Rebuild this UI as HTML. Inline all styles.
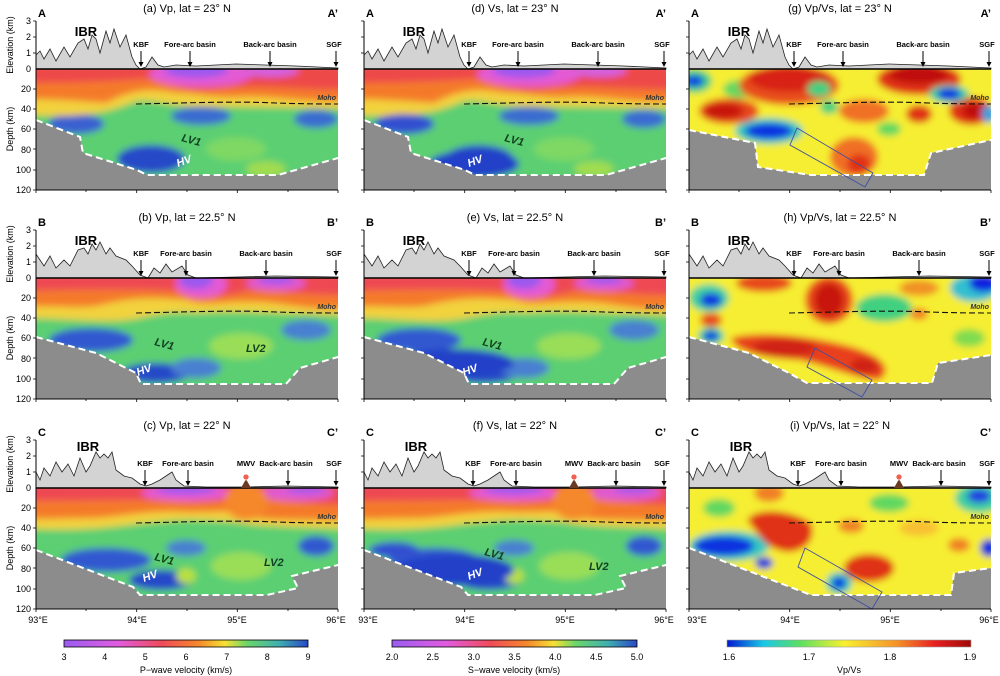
<!DOCTYPE html>
<html><head><meta charset="utf-8"><style>
html,body{margin:0;padding:0;background:#fff}
svg{display:block;font-family:"Liberation Sans",sans-serif}
.t{font-size:11px;text-anchor:middle}
.tk{font-size:9px;text-anchor:end}
.lb{font-size:7.5px;font-weight:bold;text-anchor:middle}
.cb{font-size:9px;text-anchor:middle}
</style></head><body>
<svg width="1000" height="676" viewBox="0 0 1000 676" xmlns="http://www.w3.org/2000/svg">
<defs>
<filter id="bl" x="-20%" y="-20%" width="140%" height="140%"><feGaussianBlur stdDeviation="3.5"/></filter>
<clipPath id="cp"><rect x="0" y="0" width="302" height="121"/></clipPath>
<linearGradient id="gvp" x1="0" x2="1">
<stop offset="0" stop-color="#9a5cf0"/><stop offset="0.22" stop-color="#e05ce0"/><stop offset="0.4" stop-color="#f04a5a"/><stop offset="0.55" stop-color="#f5872c"/><stop offset="0.66" stop-color="#f6e034"/><stop offset="0.75" stop-color="#6cd66a"/><stop offset="0.88" stop-color="#40b0b0"/><stop offset="1" stop-color="#2848c8"/></linearGradient>
<linearGradient id="gvr" x1="0" x2="1">
<stop offset="0" stop-color="#0018d0"/><stop offset="0.15" stop-color="#18c8e8"/><stop offset="0.3" stop-color="#5ce060"/><stop offset="0.48" stop-color="#f8f030"/><stop offset="0.7" stop-color="#f59028"/><stop offset="0.85" stop-color="#e82020"/><stop offset="1" stop-color="#a00808"/></linearGradient>

<g id="vp1">
<rect x="-20" y="-5" width="342" height="135" fill="#5ccf72"/>
<ellipse cx="40" cy="55" rx="28" ry="10" fill="#3a60d0"/>
<ellipse cx="115" cy="90" rx="34" ry="14" fill="#2848c8"/>
<ellipse cx="165" cy="47" rx="30" ry="9" fill="#3a6cd0"/>
<ellipse cx="280" cy="50" rx="22" ry="9" fill="#3a6cd0"/>
<ellipse cx="200" cy="80" rx="30" ry="12" fill="#7ed864"/>
<ellipse cx="230" cy="100" rx="20" ry="8" fill="#a0dc50"/>
<path d="M-20,-5H322V40C260,38 200,38 160,37C130,37 120,30 100,32C70,45 40,50 -20,45Z" fill="#f2d23e"/>
<path d="M-20,-5H322V32C260,34 240,26 200,28C170,28 160,24 140,24C120,20 100,18 70,34C40,32 20,30 -20,30Z" fill="#f47a2a"/>
<path d="M-20,-5H322V20C260,22 220,14 180,20C150,24 130,12 110,10C80,12 50,14 -20,14Z" fill="#ee4a48"/>
<ellipse cx="165" cy="5" rx="52" ry="13" fill="#e45ad4"/>
<ellipse cx="160" cy="1" rx="32" ry="8" fill="#9c58ee"/>
<ellipse cx="235" cy="2" rx="28" ry="6" fill="#d460e0"/>
</g>
<g id="vp2">
<rect x="-20" y="-5" width="342" height="135" fill="#5ccf72"/>
<ellipse cx="55" cy="62" rx="42" ry="12" fill="#3058d0"/>
<ellipse cx="120" cy="95" rx="34" ry="10" fill="#2848c8"/>
<ellipse cx="270" cy="52" rx="25" ry="10" fill="#4a80d0"/>
<ellipse cx="160" cy="90" rx="25" ry="10" fill="#4a80d0"/>
<ellipse cx="205" cy="68" rx="32" ry="13" fill="#9ade58"/>
<path d="M-20,-5H322V38C260,36 200,32 160,35C130,32 110,40 90,42C60,45 30,40 -20,40Z" fill="#f2d23e"/>
<path d="M-20,-5H322V30C270,34 250,24 220,24C190,22 170,30 150,22C120,20 100,18 60,28C40,30 20,28 -20,28Z" fill="#f47a2a"/>
<path d="M-20,-5H322V16C270,19 240,11 210,13C180,22 160,18 140,13C110,11 50,11 -20,13Z" fill="#ee4a52"/>
<ellipse cx="165" cy="6" rx="26" ry="14" fill="#e45ad4"/>
<ellipse cx="160" cy="2" rx="17" ry="9" fill="#9c58ee"/>
<ellipse cx="240" cy="5" rx="30" ry="8" fill="#e05ad0"/>
<ellipse cx="240" cy="1" rx="18" ry="5" fill="#a058ee"/>
</g>
<g id="vp3">
<rect x="-20" y="-5" width="342" height="135" fill="#5ccf72"/>
<ellipse cx="70" cy="72" rx="45" ry="12" fill="#3058d0"/>
<ellipse cx="125" cy="92" rx="32" ry="10" fill="#2848c8"/>
<ellipse cx="150" cy="60" rx="20" ry="8" fill="#4a80d0"/>
<ellipse cx="280" cy="58" rx="18" ry="10" fill="#3058d0"/>
<ellipse cx="205" cy="78" rx="30" ry="14" fill="#9ade58"/>
<ellipse cx="150" cy="88" rx="10" ry="8" fill="#b8e040"/>
<path d="M-20,-5H322V42C270,38 230,40 200,34C170,32 150,30 120,34C90,36 60,45 -20,40Z" fill="#f2d23e"/>
<path d="M-20,-5H322V32C270,32 240,32 220,30C200,20 170,25 150,24C120,22 100,26 60,30C40,30 20,31 -20,31Z" fill="#f47a2a"/>
<path d="M-20,-5H322V16C270,18 240,10 210,9C190,14 160,15 140,13C110,11 50,13 -20,13Z" fill="#ee4a52"/>
<ellipse cx="150" cy="5" rx="45" ry="8" fill="#e45ad4"/>
<ellipse cx="150" cy="1" rx="30" ry="5" fill="#9c58ee"/>
<ellipse cx="260" cy="5" rx="38" ry="8" fill="#e05ad0"/>
<ellipse cx="270" cy="1" rx="20" ry="4" fill="#a058ee"/>
<ellipse cx="210" cy="14" rx="22" ry="18" fill="#f5882c"/>
</g>

<g id="vr1">
<rect x="-20" y="-5" width="342" height="135" fill="#f6ee30"/>
<ellipse cx="5" cy="12" rx="18" ry="12" fill="#40d080"/><ellipse cx="5" cy="12" rx="10" ry="6" fill="#1040e0"/>
<ellipse cx="50" cy="20" rx="16" ry="9" fill="#60d860"/>
<ellipse cx="80" cy="62" rx="34" ry="13" fill="#30c8c0"/><ellipse cx="80" cy="62" rx="24" ry="8" fill="#1030e0"/>
<ellipse cx="100" cy="16" rx="50" ry="20" fill="#e8501c"/><ellipse cx="100" cy="10" rx="40" ry="13" fill="#d82018"/>
<ellipse cx="230" cy="10" rx="42" ry="16" fill="#e03018"/><ellipse cx="230" cy="6" rx="30" ry="9" fill="#c01010"/>
<ellipse cx="40" cy="42" rx="30" ry="13" fill="#e84a1c"/><ellipse cx="35" cy="42" rx="20" ry="8" fill="#c81810"/>
<ellipse cx="282" cy="42" rx="22" ry="14" fill="#e03018"/><ellipse cx="285" cy="42" rx="12" ry="8" fill="#c01010"/>
<ellipse cx="175" cy="42" rx="25" ry="12" fill="#f07028"/>
<ellipse cx="230" cy="45" rx="13" ry="9" fill="#e03018"/>
<ellipse cx="165" cy="88" rx="24" ry="20" fill="#f07028"/><ellipse cx="170" cy="95" rx="12" ry="10" fill="#e03018"/>
<ellipse cx="260" cy="25" rx="20" ry="9" fill="#40d0a0"/><ellipse cx="260" cy="25" rx="12" ry="6" fill="#1030e0"/>
<ellipse cx="140" cy="38" rx="9" ry="7" fill="#40d080"/>
<ellipse cx="300" cy="45" rx="7" ry="9" fill="#30a0e0"/>
<ellipse cx="200" cy="60" rx="12" ry="7" fill="#60d860"/>
<ellipse cx="130" cy="20" rx="12" ry="8" fill="#40d080"/>
</g>
<g id="vr2">
<rect x="-20" y="-5" width="342" height="135" fill="#f6ee30"/>
<ellipse cx="20" cy="20" rx="20" ry="14" fill="#40d0a0"/><ellipse cx="22" cy="22" rx="11" ry="7" fill="#1030e0"/>
<ellipse cx="22" cy="58" rx="13" ry="9" fill="#40d0a0"/><ellipse cx="22" cy="58" rx="8" ry="5" fill="#1030e0"/>
<ellipse cx="22" cy="42" rx="11" ry="7" fill="#e84a1c"/>
<ellipse cx="140" cy="22" rx="24" ry="24" fill="#e84a1c"/><ellipse cx="140" cy="22" rx="15" ry="17" fill="#c81810"/>
<ellipse cx="75" cy="5" rx="28" ry="9" fill="#e84a1c"/>
<path d="M42,60C70,52 120,58 160,68C195,78 205,92 190,102C170,102 140,88 110,82C80,80 46,76 42,60Z" fill="#e8401c"/>
<ellipse cx="95" cy="70" rx="32" ry="9" fill="#d02018"/>
<ellipse cx="175" cy="88" rx="14" ry="8" fill="#d02018"/>
<ellipse cx="195" cy="30" rx="28" ry="14" fill="#40d080"/>
<ellipse cx="285" cy="10" rx="24" ry="14" fill="#30c0d0"/><ellipse cx="295" cy="5" rx="15" ry="9" fill="#1020e0"/>
<ellipse cx="230" cy="36" rx="9" ry="6" fill="#f08028"/>
<ellipse cx="50" cy="85" rx="11" ry="7" fill="#60d860"/>
<ellipse cx="280" cy="60" rx="16" ry="9" fill="#80dc50"/>
<ellipse cx="230" cy="10" rx="20" ry="8" fill="#f09028"/>
</g>
<g id="vr3">
<rect x="-20" y="-5" width="342" height="135" fill="#f6ee30"/>
<ellipse cx="30" cy="20" rx="16" ry="9" fill="#60d860"/>
<ellipse cx="40" cy="58" rx="40" ry="15" fill="#30c8c0"/><ellipse cx="35" cy="58" rx="30" ry="10" fill="#1030e0"/>
<ellipse cx="80" cy="5" rx="15" ry="9" fill="#f08028"/>
<path d="M58,32C68,18 102,22 122,35C127,52 117,62 100,64C78,62 73,50 68,45Z" fill="#e03018"/>
<ellipse cx="162" cy="38" rx="13" ry="7" fill="#f08028"/>
<ellipse cx="180" cy="80" rx="25" ry="14" fill="#e03018"/>
<ellipse cx="150" cy="95" rx="13" ry="11" fill="#30c8c0"/><ellipse cx="150" cy="95" rx="7" ry="6" fill="#1030e0"/>
<ellipse cx="75" cy="75" rx="9" ry="6" fill="#1030e0"/>
<ellipse cx="290" cy="10" rx="24" ry="15" fill="#40d0a0"/><ellipse cx="290" cy="8" rx="12" ry="7" fill="#2040e0"/>
<ellipse cx="200" cy="15" rx="20" ry="9" fill="#60d860"/>
<ellipse cx="300" cy="60" rx="9" ry="9" fill="#1030e0"/>
<ellipse cx="270" cy="57" rx="11" ry="7" fill="#f08028"/>
<ellipse cx="230" cy="40" rx="20" ry="8" fill="#f8c030"/>
</g>

<g id="topo1"><path d="M0,0L0,-14 4,-18 8,-10 14,-20 20,-8 28,-22 34,-12 42,-26 48,-30 52,-20 56,-34 60,-30 64,-16 70,-38 74,-26 78,-40 84,-22 90,-34 96,-12 100,-4 104,0 110,-2 116,-12 122,-4 128,-2 140,-4 160,-3 200,-5 260,-3 302,-1 302,0Z" fill="#d3d3d3" stroke="#222" stroke-width="0.8"/></g>
<g id="topo2"><path d="M0,0L0,-24 4,-18 8,-12 14,-22 20,-10 28,-18 34,-12 42,-28 48,-30 52,-24 56,-34 60,-28 64,-36 70,-24 74,-30 80,-22 90,-18 96,-12 104,-3 112,0 118,-10 124,-5 130,-14 136,-6 146,-12 152,-3 160,0 200,-1 240,-2 302,-1 302,0Z" fill="#d3d3d3" stroke="#222" stroke-width="0.8"/></g>
<g id="topo3"><path d="M0,0L0,-16 4,-8 8,-20 14,-12 20,-26 26,-16 32,-24 38,-12 44,-30 50,-16 54,-22 60,-36 64,-30 68,-34 72,-30 76,-36 80,-18 88,-12 96,-10 104,-4 110,-2 116,-4 124,-8 130,-12 136,-16 140,-8 148,-2 170,-1 210,-1 250,-2 302,-1 302,0Z" fill="#d3d3d3" stroke="#222" stroke-width="0.8"/></g>

<g id="ax">
<line x1="0" y1="-48" x2="0" y2="121" stroke="#000" stroke-width="1"/>
<line x1="0" y1="121" x2="302" y2="121" stroke="#000" stroke-width="1"/>
<line x1="0" y1="0" x2="302" y2="0" stroke="#000" stroke-width="1.5"/>
<path d="M0,-48h-3M0,-32h-3M0,-16h-3M0,20h-3M0,40h-3M0,60h-3M0,80h-3M0,101h-3M0,121h-3M0,121v3M50,121v2M100.7,121v3M151,121v2M201.3,121v3M252,121v2M302,121v3" stroke="#000" stroke-width="0.8"/>
</g>
<g id="lax" class="tk">
<text x="-5" y="-45">3</text><text x="-5" y="-29">2</text><text x="-5" y="-13">1</text><text x="-5" y="3">0</text>
<text x="-5" y="23">20</text><text x="-5" y="43">40</text><text x="-5" y="63">60</text><text x="-5" y="84">80</text><text x="-5" y="104">100</text><text x="-5" y="124">120</text>
<text transform="translate(-23,-24) rotate(-90)" style="text-anchor:middle">Elevation (km)</text>
<text transform="translate(-23,60) rotate(-90)" style="text-anchor:middle">Depth (km)</text>
</g>
<g id="arr"><line x1="0" y1="-18" x2="0" y2="-5" stroke="#000" stroke-width="1"/><path d="M-2.5,-7 L2.5,-7 L0,-2Z"/></g>
<g id="moho"><path d="M100,35 C150,34 200,32 240,34 C270,35 290,35 302,35" fill="none" stroke="#111" stroke-width="1.1" stroke-dasharray="6,3"/><text x="300" y="31" style="font-size:7px;font-style:italic;font-weight:bold;text-anchor:end;fill:#333">Moho</text></g>
<g id="vol"><path d="M-5,0 L0,-9 L5,0Z" fill="#6b3a22"/><circle cx="0" cy="-11" r="3" fill="#f06050" stroke="#fff" stroke-width="0.7"/></g>
<g id="vsx1"><ellipse cx="110" cy="95" rx="45" ry="14" fill="#2040c8"/><ellipse cx="40" cy="55" rx="30" ry="10" fill="#3050d0"/></g>
<g id="vsx2"><ellipse cx="90" cy="85" rx="60" ry="14" fill="#2040c8"/></g>
<g id="vsx3"><ellipse cx="90" cy="82" rx="60" ry="16" fill="#2040c8"/><ellipse cx="30" cy="62" rx="25" ry="8" fill="#3050d0"/></g>
</defs>

<!-- Titles -->
<text class="t" x="187" y="12">(a) Vp, lat = 23° N</text>
<text class="t" x="515" y="12">(d) Vs, lat = 23° N</text>
<text class="t" x="840" y="12">(g) Vp/Vs, lat = 23° N</text>
<text class="t" x="187" y="221">(b) Vp, lat = 22.5° N</text>
<text class="t" x="515" y="221">(e) Vs, lat = 22.5° N</text>
<text class="t" x="840" y="221">(h) Vp/Vs, lat = 22.5° N</text>
<text class="t" x="187" y="429">(c) Vp, lat = 22° N</text>
<text class="t" x="515" y="429">(f) Vs, lat = 22° N</text>
<text class="t" x="840" y="429">(i) Vp/Vs, lat = 22° N</text>

<!-- ROW 1 -->
<g transform="translate(36,69)">
<g clip-path="url(#cp)"><g filter="url(#bl)"><use href="#vp1"/></g></g>
<path d="M0,51L44,68 47,84 101,101 111,106 242,106 302,89V121H0Z" fill="#8c8c8c"/>
<path d="M0,51L44,68 47,84 101,101 111,106 242,106 302,89" fill="none" stroke="#fff" stroke-width="2" stroke-dasharray="7,4"/>
<use href="#topo1"/><use href="#moho"/><use href="#ax"/><use href="#lax"/>
</g>
<g transform="translate(364,69)">
<g clip-path="url(#cp)"><g filter="url(#bl)"><use href="#vp1"/><use href="#vsx1"/></g></g>
<path d="M0,51L44,68 47,84 101,101 111,106 242,106 302,89V121H0Z" fill="#8c8c8c"/>
<path d="M0,51L44,68 47,84 101,101 111,106 242,106 302,89" fill="none" stroke="#fff" stroke-width="2" stroke-dasharray="7,4"/>
<use href="#topo1"/><use href="#moho"/><use href="#ax"/>
</g>
<g transform="translate(689,69)">
<g clip-path="url(#cp)"><g filter="url(#bl)"><use href="#vr1"/></g></g>
<path d="M0,61L66,74 69,98 122,106 235,106 242,84 302,71V121H0Z" fill="#8c8c8c"/>
<path d="M0,61L66,74 69,98 122,106 235,106 242,84 302,71" fill="none" stroke="#fff" stroke-width="2" stroke-dasharray="7,4"/>
<polygon points="108,59 101,76 176,118 184,104" fill="none" stroke="#4050a0" stroke-width="0.9"/>
<use href="#topo1"/><use href="#moho"/><use href="#ax"/>
</g>

<!-- ROW 2 -->
<g transform="translate(36,278)">
<g clip-path="url(#cp)"><g filter="url(#bl)"><use href="#vp2"/></g></g>
<path d="M0,59L60,75 100,95 105,106 250,106 264,90 302,79V121H0Z" fill="#8c8c8c"/>
<path d="M0,59L60,75 100,95 105,106 250,106 264,90 302,79" fill="none" stroke="#fff" stroke-width="2" stroke-dasharray="7,4"/>
<use href="#topo2"/><use href="#moho"/><use href="#ax"/><use href="#lax"/>
</g>
<g transform="translate(364,278)">
<g clip-path="url(#cp)"><g filter="url(#bl)"><use href="#vp2"/><use href="#vsx2"/></g></g>
<path d="M0,59L60,75 100,95 105,106 250,106 264,90 302,79V121H0Z" fill="#8c8c8c"/>
<path d="M0,59L60,75 100,95 105,106 250,106 264,90 302,79" fill="none" stroke="#fff" stroke-width="2" stroke-dasharray="7,4"/>
<use href="#topo2"/><use href="#moho"/><use href="#ax"/>
</g>
<g transform="translate(689,278)">
<g clip-path="url(#cp)"><g filter="url(#bl)"><use href="#vr2"/></g></g>
<path d="M0,59L60,75 100,95 118,105 243,105 249,85 302,77V121H0Z" fill="#8c8c8c"/>
<path d="M0,59L60,75 100,95 118,105 243,105 249,85 302,77" fill="none" stroke="#fff" stroke-width="2" stroke-dasharray="7,4"/>
<polygon points="126,70 118,89 173,119 183,102" fill="none" stroke="#4050a0" stroke-width="0.9"/>
<use href="#topo2"/><use href="#moho"/><use href="#ax"/>
</g>

<!-- ROW 3 -->
<g transform="translate(36,488)">
<g clip-path="url(#cp)"><g filter="url(#bl)"><use href="#vp3"/></g></g>
<path d="M0,62L97,99 104,107 231,107 262,100 256,88 302,77V121H0Z" fill="#8c8c8c"/>
<path d="M0,62L97,99 104,107 231,107 262,100 256,88 302,77" fill="none" stroke="#fff" stroke-width="2" stroke-dasharray="7,4"/>
<use href="#topo3"/><use href="#moho"/><use href="#ax"/><use href="#lax"/>
</g>
<g transform="translate(364,488)">
<g clip-path="url(#cp)"><g filter="url(#bl)"><use href="#vp3"/><use href="#vsx3"/></g></g>
<path d="M0,62L97,99 104,107 231,107 262,100 256,88 302,77V121H0Z" fill="#8c8c8c"/>
<path d="M0,62L97,99 104,107 231,107 262,100 256,88 302,77" fill="none" stroke="#fff" stroke-width="2" stroke-dasharray="7,4"/>
<use href="#topo3"/><use href="#moho"/><use href="#ax"/>
</g>
<g transform="translate(689,488)">
<g clip-path="url(#cp)"><g filter="url(#bl)"><use href="#vr3"/></g></g>
<path d="M0,60L96,97 122,107 262,107 265,85 302,80V121H0Z" fill="#8c8c8c"/>
<path d="M0,60L96,97 122,107 262,107 265,85 302,80" fill="none" stroke="#fff" stroke-width="2" stroke-dasharray="7,4"/>
<polygon points="116,60 109,79 183,121 193,104" fill="none" stroke="#4050a0" stroke-width="0.9"/>
<use href="#topo3"/><use href="#moho"/><use href="#ax"/>
</g>

<!-- Annotations -->
<g font-family="Liberation Sans, sans-serif">
<g transform="translate(36,69)"><text x="2" y="-52" style="font-size:11px;font-weight:bold">A</text><text x="302" y="-52" style="font-size:11px;font-weight:bold;text-anchor:end">A’</text><text x="50" y="-33" style="font-size:13px;font-weight:bold;text-anchor:middle">IBR</text>
<text class="lb" x="105" y="-22">KBF</text><use href="#arr" x="105"/><text class="lb" x="154" y="-22">Fore-arc basin</text><use href="#arr" x="154"/><text class="lb" x="234" y="-22">Back-arc basin</text><use href="#arr" x="234"/><text class="lb" x="298" y="-22">SGF</text><use href="#arr" x="300"/>
<text x="145" y="72" style="font-size:11px;font-weight:bold;font-style:italic;fill:#104020" transform="rotate(15,145,72)">LV1</text><text x="142" y="98" style="font-size:11px;font-weight:bold;font-style:italic;fill:#fff" transform="rotate(-20,142,98)">HV</text></g>
<g transform="translate(364,69)"><text x="2" y="-52" style="font-size:11px;font-weight:bold">A</text><text x="302" y="-52" style="font-size:11px;font-weight:bold;text-anchor:end">A’</text><text x="50" y="-33" style="font-size:13px;font-weight:bold;text-anchor:middle">IBR</text>
<text class="lb" x="105" y="-22">KBF</text><use href="#arr" x="105"/><text class="lb" x="154" y="-22">Fore-arc basin</text><use href="#arr" x="154"/><text class="lb" x="234" y="-22">Back-arc basin</text><use href="#arr" x="234"/><text class="lb" x="298" y="-22">SGF</text><use href="#arr" x="300"/>
<text x="140" y="72" style="font-size:11px;font-weight:bold;font-style:italic;fill:#104020" transform="rotate(15,140,72)">LV1</text><text x="105" y="98" style="font-size:11px;font-weight:bold;font-style:italic;fill:#fff" transform="rotate(-20,105,98)">HV</text></g>
<g transform="translate(689,69)"><text x="2" y="-52" style="font-size:11px;font-weight:bold">A</text><text x="302" y="-52" style="font-size:11px;font-weight:bold;text-anchor:end">A’</text><text x="50" y="-33" style="font-size:13px;font-weight:bold;text-anchor:middle">IBR</text>
<text class="lb" x="105" y="-22">KBF</text><use href="#arr" x="105"/><text class="lb" x="154" y="-22">Fore-arc basin</text><use href="#arr" x="154"/><text class="lb" x="234" y="-22">Back-arc basin</text><use href="#arr" x="234"/><text class="lb" x="298" y="-22">SGF</text><use href="#arr" x="300"/></g>
<g transform="translate(36,278)"><text x="2" y="-52" style="font-size:11px;font-weight:bold">B</text><text x="302" y="-52" style="font-size:11px;font-weight:bold;text-anchor:end">B’</text><text x="50" y="-33" style="font-size:13px;font-weight:bold;text-anchor:middle">IBR</text>
<text class="lb" x="105" y="-22">KBF</text><use href="#arr" x="105"/><text class="lb" x="150" y="-22">Fore-arc basin</text><use href="#arr" x="150"/><text class="lb" x="230" y="-22">Back-arc basin</text><use href="#arr" x="230"/><text class="lb" x="298" y="-22">SGF</text><use href="#arr" x="300"/>
<text x="118" y="67" style="font-size:11px;font-weight:bold;font-style:italic;fill:#104020" transform="rotate(15,118,67)">LV1</text><text x="210" y="74" style="font-size:11px;font-weight:bold;font-style:italic;fill:#104020">LV2</text><text x="102" y="98" style="font-size:11px;font-weight:bold;font-style:italic;fill:#fff" transform="rotate(-20,102,98)">HV</text></g>
<g transform="translate(364,278)"><text x="2" y="-52" style="font-size:11px;font-weight:bold">B</text><text x="302" y="-52" style="font-size:11px;font-weight:bold;text-anchor:end">B’</text><text x="50" y="-33" style="font-size:13px;font-weight:bold;text-anchor:middle">IBR</text>
<text class="lb" x="105" y="-22">KBF</text><use href="#arr" x="105"/><text class="lb" x="150" y="-22">Fore-arc basin</text><use href="#arr" x="150"/><text class="lb" x="230" y="-22">Back-arc basin</text><use href="#arr" x="230"/><text class="lb" x="298" y="-22">SGF</text><use href="#arr" x="300"/>
<text x="118" y="67" style="font-size:11px;font-weight:bold;font-style:italic;fill:#104020" transform="rotate(15,118,67)">LV1</text><text x="100" y="98" style="font-size:11px;font-weight:bold;font-style:italic;fill:#fff" transform="rotate(-20,100,98)">HV</text></g>
<g transform="translate(689,278)"><text x="2" y="-52" style="font-size:11px;font-weight:bold">B</text><text x="302" y="-52" style="font-size:11px;font-weight:bold;text-anchor:end">B’</text><text x="50" y="-33" style="font-size:13px;font-weight:bold;text-anchor:middle">IBR</text>
<text class="lb" x="105" y="-22">KBF</text><use href="#arr" x="105"/><text class="lb" x="150" y="-22">Fore-arc basin</text><use href="#arr" x="150"/><text class="lb" x="230" y="-22">Back-arc basin</text><use href="#arr" x="230"/><text class="lb" x="298" y="-22">SGF</text><use href="#arr" x="300"/></g>
<g transform="translate(36,488)"><text x="2" y="-52" style="font-size:11px;font-weight:bold">C</text><text x="302" y="-52" style="font-size:11px;font-weight:bold;text-anchor:end">C’</text><text x="52" y="-37" style="font-size:13px;font-weight:bold;text-anchor:middle">IBR</text>
<text class="lb" x="109" y="-22">KBF</text><use href="#arr" x="109"/><text class="lb" x="152" y="-22">Fore-arc basin</text><use href="#arr" x="152"/><text class="lb" x="210" y="-22">MWV</text><use href="#vol" x="210" y="0"/><text class="lb" x="250" y="-22">Back-arc basin</text><use href="#arr" x="252"/><text class="lb" x="298" y="-22">SGF</text><use href="#arr" x="300"/>
<text x="118" y="72" style="font-size:11px;font-weight:bold;font-style:italic;fill:#104020" transform="rotate(15,118,72)">LV1</text><text x="228" y="78" style="font-size:11px;font-weight:bold;font-style:italic;fill:#104020">LV2</text><text x="108" y="94" style="font-size:11px;font-weight:bold;font-style:italic;fill:#fff" transform="rotate(-20,108,94)">HV</text></g>
<g transform="translate(364,488)"><text x="2" y="-52" style="font-size:11px;font-weight:bold">C</text><text x="302" y="-52" style="font-size:11px;font-weight:bold;text-anchor:end">C’</text><text x="52" y="-37" style="font-size:13px;font-weight:bold;text-anchor:middle">IBR</text>
<text class="lb" x="109" y="-22">KBF</text><use href="#arr" x="109"/><text class="lb" x="152" y="-22">Fore-arc basin</text><use href="#arr" x="152"/><text class="lb" x="210" y="-22">MWV</text><use href="#vol" x="210" y="0"/><text class="lb" x="250" y="-22">Back-arc basin</text><use href="#arr" x="252"/><text class="lb" x="298" y="-22">SGF</text><use href="#arr" x="300"/>
<text x="120" y="67" style="font-size:11px;font-weight:bold;font-style:italic;fill:#104020" transform="rotate(15,120,67)">LV1</text><text x="225" y="82" style="font-size:11px;font-weight:bold;font-style:italic;fill:#104020">LV2</text><text x="105" y="92" style="font-size:11px;font-weight:bold;font-style:italic;fill:#fff" transform="rotate(-20,105,92)">HV</text></g>
<g transform="translate(689,488)"><text x="2" y="-52" style="font-size:11px;font-weight:bold">C</text><text x="302" y="-52" style="font-size:11px;font-weight:bold;text-anchor:end">C’</text><text x="52" y="-37" style="font-size:13px;font-weight:bold;text-anchor:middle">IBR</text>
<text class="lb" x="109" y="-22">KBF</text><use href="#arr" x="109"/><text class="lb" x="152" y="-22">Fore-arc basin</text><use href="#arr" x="152"/><text class="lb" x="210" y="-22">MWV</text><use href="#vol" x="210" y="0"/><text class="lb" x="250" y="-22">Back-arc basin</text><use href="#arr" x="252"/><text class="lb" x="298" y="-22">SGF</text><use href="#arr" x="300"/></g>
</g>

<g style="font-size:9px;text-anchor:middle">
<text x="38" y="623">93°E</text><text x="137" y="623">94°E</text><text x="237" y="623">95°E</text><text x="336" y="623">96°E</text>
<text x="368" y="623">93°E</text><text x="465" y="623">94°E</text><text x="565" y="623">95°E</text><text x="664" y="623">96°E</text>
<text x="697" y="623">93°E</text><text x="790" y="623">94°E</text><text x="890" y="623">95°E</text><text x="989" y="623">96°E</text>
</g>

<rect x="64" y="640" width="244" height="7" fill="url(#gvp)" stroke="#000" stroke-width="0.8"/>
<g class="cb"><text x="64" y="660">3</text><text x="104.7" y="660">4</text><text x="145.3" y="660">5</text><text x="186" y="660">6</text><text x="226.7" y="660">7</text><text x="267.3" y="660">8</text><text x="308" y="660">9</text><text x="186" y="673">P−wave velocity (km/s)</text></g>
<rect x="392" y="640" width="245" height="7" fill="url(#gvp)" stroke="#000" stroke-width="0.8"/>
<g class="cb"><text x="392" y="660">2.0</text><text x="432.8" y="660">2.5</text><text x="473.7" y="660">3.0</text><text x="514.5" y="660">3.5</text><text x="555.3" y="660">4.0</text><text x="596.2" y="660">4.5</text><text x="637" y="660">5.0</text><text x="514" y="673">S−wave velocity (km/s)</text></g>
<rect x="727" y="640" width="244" height="7" fill="url(#gvr)" stroke="#999" stroke-width="0.6"/>
<g class="cb"><text x="729" y="660">1.6</text><text x="809" y="660">1.7</text><text x="890" y="660">1.8</text><text x="970" y="660">1.9</text><text x="849" y="673">Vp/Vs</text></g>
</svg>
</body></html>
